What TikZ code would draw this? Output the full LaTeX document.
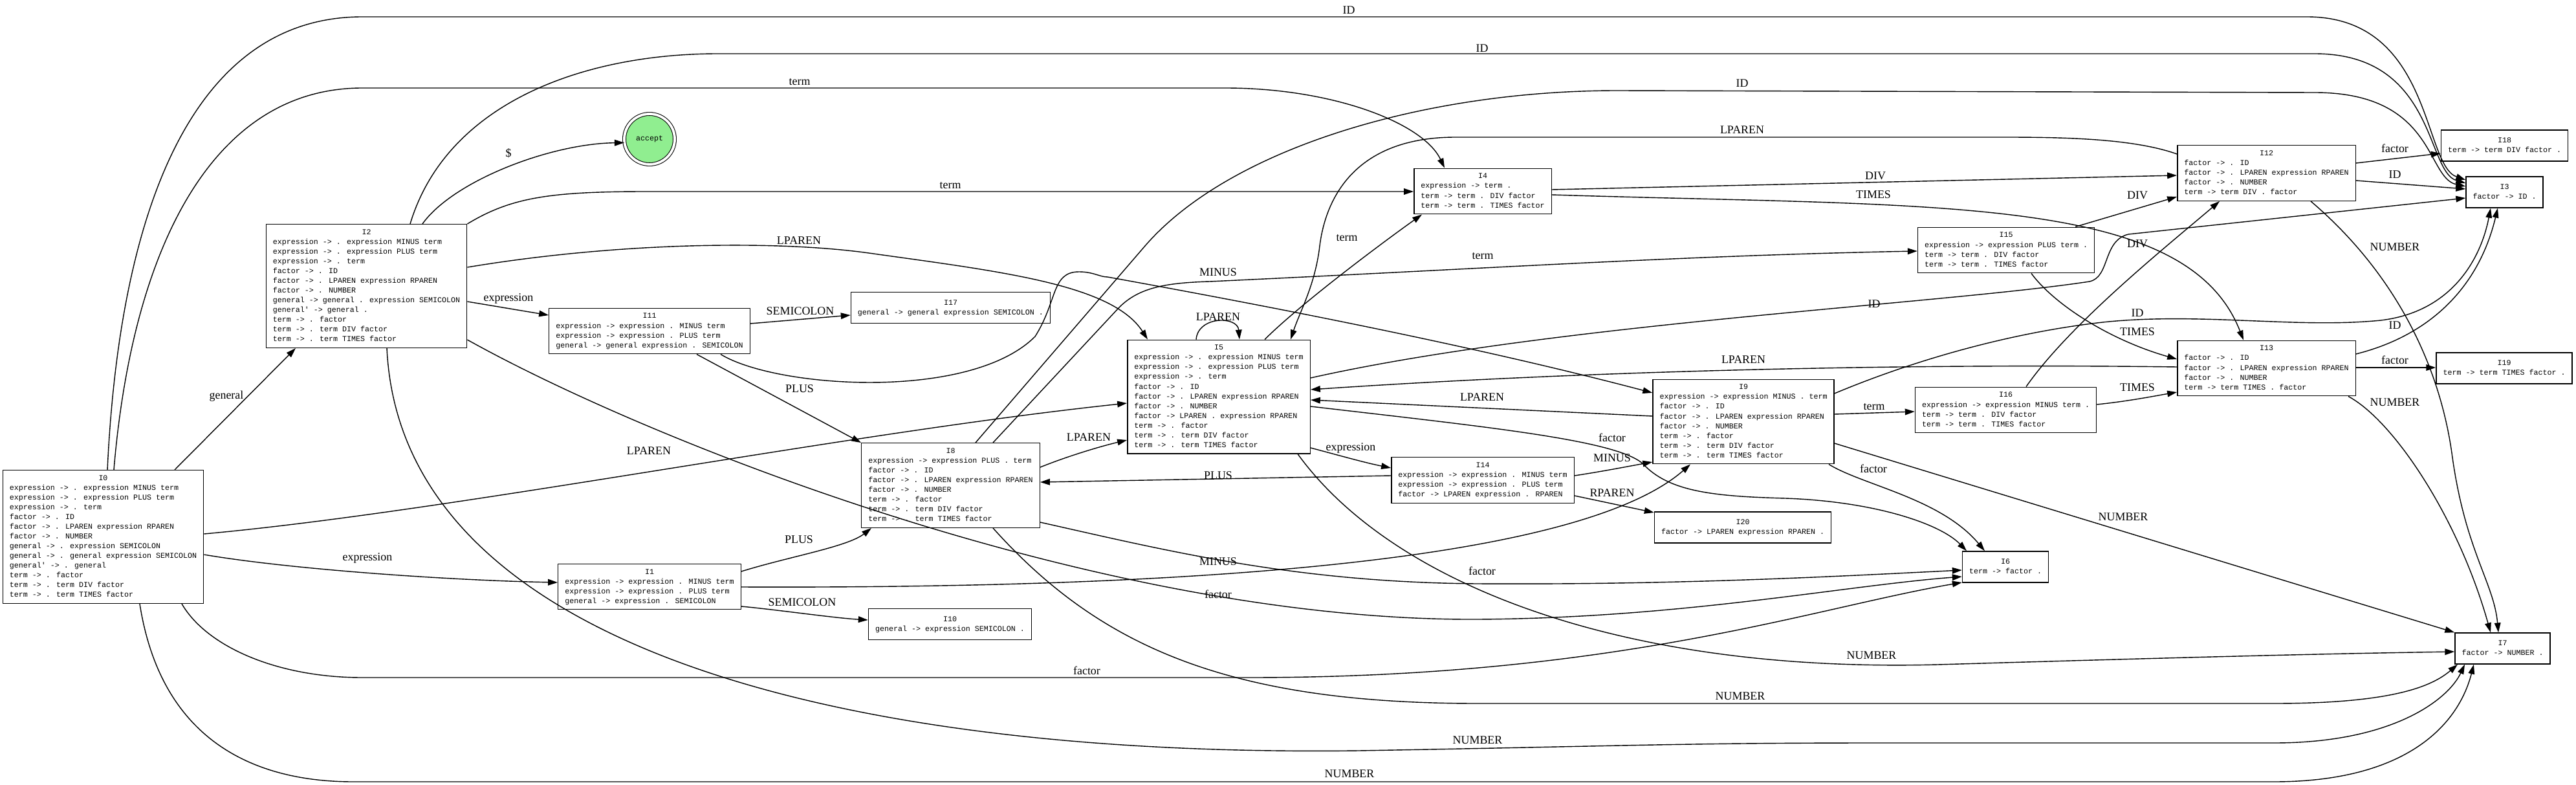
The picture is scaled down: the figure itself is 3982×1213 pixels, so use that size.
\documentclass[tikz,border=0pt]{standalone}
\usepackage{fontspec}
\usetikzlibrary{arrows.meta}
\newfontfamily\statefont{Liberation Mono}
\newfontfamily\edgefont{Liberation Serif}
\definecolor{acceptgreen}{HTML}{90EE90}
\newcommand{\lritems}[2]{\begin{tabular}{@{}l@{}}\multicolumn{1}{@{}c@{}}{#1}\\#2\end{tabular}}
\tikzset{
  lrstate/.style={draw, line width=0.8pt, inner xsep=6pt, inner ysep=3pt, minimum height=0.96cm,
    font=\statefont\fontsize{6.64}{8.54}\selectfont},
  acceptnode/.style={circle, draw, line width=0.6pt, double, double distance=2.2pt, fill=acceptgreen,
    minimum size=1.56cm, inner sep=0pt, font=\statefont\fontsize{6.64}{8.54}\selectfont},
  trans/.style={-{Triangle[length=8.5pt,width=5.5pt]}, line width=0.8pt},
  tlabel/.style={font=\edgefont\fontsize{10.2}{12}\selectfont, inner sep=0pt}
}
\begin{document}
\begin{tikzpicture}[x=0.02cm, y=-0.02cm]
\useasboundingbox (0,0) rectangle (3982,1213);
\fill[white] (0,0) rectangle (3982,1213);

% States
\node[lrstate] (I0) at (159.5,829.5) {\lritems{I0}{expression -> . expression MINUS term\\expression -> . expression PLUS term\\expression -> . term\\factor -> . ID\\factor -> . LPAREN expression RPAREN\\factor -> . NUMBER\\general -> . expression SEMICOLON\\general -> . general expression SEMICOLON\\general' -> . general\\term -> . factor\\term -> . term DIV factor\\term -> . term TIMES factor}};
\node[lrstate] (I1) at (1004,906.5) {\lritems{I1}{expression -> expression . MINUS term\\expression -> expression . PLUS term\\general -> expression . SEMICOLON}};
\node[lrstate] (I2) at (566.5,442) {\lritems{I2}{expression -> . expression MINUS term\\expression -> . expression PLUS term\\expression -> . term\\factor -> . ID\\factor -> . LPAREN expression RPAREN\\factor -> . NUMBER\\general -> general . expression SEMICOLON\\general' -> general .\\term -> . factor\\term -> . term DIV factor\\term -> . term TIMES factor}};
\node[lrstate] (I3) at (3871.5,297) {\lritems{I3}{factor -> ID .}};
\node[lrstate] (I4) at (2292,295.5) {\lritems{I4}{expression -> term .\\term -> term . DIV factor\\term -> term . TIMES factor}};
\node[lrstate] (I5) at (1884,613) {\lritems{I5}{expression -> . expression MINUS term\\expression -> . expression PLUS term\\expression -> . term\\factor -> . ID\\factor -> . LPAREN expression RPAREN\\factor -> . NUMBER\\factor -> LPAREN . expression RPAREN\\term -> . factor\\term -> . term DIV factor\\term -> . term TIMES factor}};
\node[lrstate] (I6) at (3100,876) {\lritems{I6}{term -> factor .}};
\node[lrstate] (I7) at (3868.5,1002) {\lritems{I7}{factor -> NUMBER .}};
\node[lrstate] (I8) at (1469.5,750) {\lritems{I8}{expression -> expression PLUS . term\\factor -> . ID\\factor -> . LPAREN expression RPAREN\\factor -> . NUMBER\\term -> . factor\\term -> . term DIV factor\\term -> . term TIMES factor}};
\node[lrstate] (I9) at (2695,651.5) {\lritems{I9}{expression -> expression MINUS . term\\factor -> . ID\\factor -> . LPAREN expression RPAREN\\factor -> . NUMBER\\term -> . factor\\term -> . term DIV factor\\term -> . term TIMES factor}};
\node[lrstate] (I10) at (1468.5,964.5) {\lritems{I10}{general -> expression SEMICOLON .}};
\node[lrstate] (I11) at (1004,511.5) {\lritems{I11}{expression -> expression . MINUS term\\expression -> expression . PLUS term\\general -> general expression . SEMICOLON}};
\node[lrstate] (I12) at (3503.5,267.5) {\lritems{I12}{factor -> . ID\\factor -> . LPAREN expression RPAREN\\factor -> . NUMBER\\term -> term DIV . factor}};
\node[lrstate] (I13) at (3503.5,569) {\lritems{I13}{factor -> . ID\\factor -> . LPAREN expression RPAREN\\factor -> . NUMBER\\term -> term TIMES . factor}};
\node[lrstate] (I14) at (2292,742) {\lritems{I14}{expression -> expression . MINUS term\\expression -> expression . PLUS term\\factor -> LPAREN expression . RPAREN}};
\node[lrstate] (I15) at (3101,386.5) {\lritems{I15}{expression -> expression PLUS term .\\term -> term . DIV factor\\term -> term . TIMES factor}};
\node[lrstate] (I16) at (3100.5,633.5) {\lritems{I16}{expression -> expression MINUS term .\\term -> term . DIV factor\\term -> term . TIMES factor}};
\node[lrstate] (I17) at (1469.5,475.5) {\lritems{I17}{general -> general expression SEMICOLON .}};
\node[lrstate] (I18) at (3871.5,225) {\lritems{I18}{term -> term DIV factor .}};
\node[lrstate] (I19) at (3871,569) {\lritems{I19}{term -> term TIMES factor .}};
\node[lrstate] (I20) at (2694,815) {\lritems{I20}{factor -> LPAREN expression RPAREN .}};
\node[acceptnode] (acc) at (1004,215) {accept};

% From I0
\draw[trans] (I0.north -| 270,0) -- (I2.south -| 457,0);
\node[tlabel] (t0-2) at (350,612) {general};
\draw[trans] (I0.east |- 0,857) .. controls (450,880) and (700,897) .. (I1.west |- 0,900);
\node[tlabel] (t0-1) at (568,862) {expression};
\draw[trans] (I0.north -| 176,0) .. controls (205,380) and (330,136) .. (560,136) -- (1894,136) .. controls (2060,136) and (2200,190) .. (I4.north -| 2233,0);
\node[tlabel] (t0-4) at (1236,127) {term};
\draw[trans] (I0.north -| 166,0) .. controls (185,320) and (300,26) .. (560,26) -- (3566,26) .. controls (3760,26) and (3745,255) .. (I3.west |- 0,278);
\node[tlabel] (t0-3) at (2085,16) {ID};
\draw[trans] (I0.east |- 0,825) .. controls (700,790) and (1300,670) .. (I5.west |- 0,623);
\node[tlabel] (t0-5) at (1003,697) {LPAREN};
\draw[trans] (I0.south -| 281,0) .. controls (320,1000) and (430,1047) .. (560,1047) -- (1930,1047) .. controls (2500,1047) and (2800,940) .. (I6.west |- 0,900);
\node[tlabel] (t0-6) at (1680,1036) {factor};
\draw[trans] (I0.south -| 216,0) .. controls (250,1150) and (400,1208) .. (546,1208) -- (3515,1208) .. controls (3720,1208) and (3800,1120) .. (I7.south -| 3824,0);
\node[tlabel] (t0-7) at (2086,1196) {NUMBER};

% From I1
\draw[trans] (I1.east |- 0,883) .. controls (1220,860) and (1310,845) .. (I8.south -| 1347,0);
\node[tlabel] (t1-8) at (1235,834) {PLUS};
\draw[trans] (I1.east |- 0,907) .. controls (1900,910) and (2450,860) .. (I9.south -| 2613,0);
\node[tlabel] (t1-9) at (1883,868) {MINUS};
\draw[trans] (I1.east |- 0,937) .. controls (1200,942) and (1290,955) .. (I10.west |- 0,958);
\node[tlabel] (t1-10) at (1240,931) {SEMICOLON};

% From I2
\draw[trans] (I2.north -| 653,0) .. controls (700,280) and (850,222) .. (acc.188);
\node[tlabel] (t2-a) at (786,237) {\$};
\draw[trans] (I2.east |- 0,466) -- (I11.west |- 0,487);
\node[tlabel] (t2-11) at (786,461) {expression};
\draw[trans] (I2.north east) .. controls (790,305) and (850,296) .. (1000,296) -- (I4.west |- 0,296);
\node[tlabel] (t2-4) at (1469,287) {term};
\draw[trans] (I2.east |- 0,525) .. controls (1000,680) and (1700,960) .. (2284,957) .. controls (2600,955) and (2850,905) .. (I6.west |- 0,891);
\node[tlabel] (t2-6) at (1883,918) {factor};
\draw[trans] (I2.north -| 634,0) .. controls (690,160) and (900,83) .. (1110,83) -- (3578,83) .. controls (3765,83) and (3750,265) .. (I3.west |- 0,283);
\node[tlabel] (t2-3) at (2291,75) {ID};
\draw[trans] (I2.east |- 0,413) .. controls (950,375) and (1200,370) .. (1350,392) .. controls (1550,420) and (1720,440) .. (I5.north -| 1774,0);
\node[tlabel] (t2-5) at (1235,372) {LPAREN};
\draw[trans] (I2.south -| 598,0) .. controls (620,1000) and (1300,1170) .. (2100,1160) .. controls (2500,1153) and (2600,1148) .. (2900,1148) -- (3515,1148) .. controls (3700,1148) and (3785,1080) .. (I7.south -| 3810,0);
\node[tlabel] (t2-7) at (2284,1144) {NUMBER};

% From I4
\draw[trans] (I4.east |- 0,293) -- (I12.west |- 0,271);
\node[tlabel] (t4-12) at (2899,272) {DIV};
\draw[trans] (I4.east |- 0,301) .. controls (3000,320) and (3380,300) .. (I13.north -| 3468,0);
\node[tlabel] (t4-13) at (2896,301) {TIMES};

% From I5
\draw[trans] (I5.east |- 0,692) .. controls (2075,705) and (2110,715) .. (I14.west |- 0,723);
\node[tlabel] (t5-14) at (2088,692) {expression};
\draw[trans] (I5.north -| 1955,0) .. controls (2010,470) and (2130,380) .. (I4.south -| 2198,0);
\node[tlabel] (t5-4) at (2082,368) {term};
\draw[trans] (I5.east |- 0,628) .. controls (2300,660) and (2500,680) .. (2540,717) .. controls (2580,760) and (2650,767) .. (2760,770) .. controls (2900,775) and (3000,810) .. (I6.north -| 3040,0);
\node[tlabel] (t5-6) at (2492,676) {factor};
\draw[trans] (I5.east |- 0,584) .. controls (2400,500) and (3000,470) .. (3230,435) .. controls (3262,428) and (3250,372) .. (3290,362) -- (I3.west |- 0,306);
\node[tlabel] (t5-3) at (2897,470) {ID};
\draw[trans] (I5.north -| 1849,0) .. controls (1852,488) and (1913,488) .. (I5.north -| 1916,0);
\node[tlabel] (t5-5) at (1883,490) {LPAREN};
\draw[trans] (I5.south -| 2006,0) .. controls (2150,900) and (2500,1040) .. (2995,1027) .. controls (3400,1015) and (3600,1010) .. (I7.west |- 0,1007);
\node[tlabel] (t5-7) at (2893,1013) {NUMBER};

% From I8
\draw[trans] (I8.east |- 0,722) .. controls (1650,705) and (1700,690) .. (I5.west |- 0,680);
\node[tlabel] (t8-5) at (1683,676) {LPAREN};
\draw[trans] (I8.north -| 1535,0) -- (1730,475) .. controls (1760,445) and (1800,437) .. (1870,435) .. controls (2300,415) and (2600,395) .. (I15.west |- 0,388);
\node[tlabel] (t8-15) at (2292,396) {term};
\draw[trans] (I8.north -| 1508,0) -- (1770,380) .. controls (1900,230) and (2200,140) .. (2500,140) -- (3578,143) .. controls (3765,143) and (3750,275) .. (I3.west |- 0,288);
\node[tlabel] (t8-3) at (2693,129) {ID};
\draw[trans] (I8.east |- 0,807) .. controls (1800,850) and (2000,900) .. (2284,902) .. controls (2600,904) and (2850,890) .. (I6.west |- 0,881);
\node[tlabel] (t8-6) at (2291,882) {factor};
\draw[trans] (I8.south -| 1535,0) .. controls (1700,1000) and (1900,1087) .. (2284,1087) -- (3515,1087) .. controls (3700,1087) and (3760,1060) .. (I7.south -| 3799,0);
\node[tlabel] (t8-7) at (2690,1076) {NUMBER};

% From I9
\draw[trans] (I9.east |- 0,640) -- (I16.west |- 0,636);
\node[tlabel] (t9-16) at (2897,629) {term};
\draw[trans] (I9.south -| 2827,0) .. controls (2880,750) and (3000,770) .. (I6.north -| 3068,0);
\node[tlabel] (t9-6) at (2896,724) {factor};
\draw[trans] (I9.west |- 0,643) -- (I5.east |- 0,618);
\node[tlabel] (t9-5) at (2291,614) {LPAREN};
\draw[trans] (I9.east |- 0,608) .. controls (2950,560) and (3100,515) .. (3250,498) .. controls (3400,482) and (3550,508) .. (3680,495) .. controls (3790,482) and (3835,400) .. (I3.south -| 3850,0);
\node[tlabel] (t9-3) at (3304,484) {ID};
\draw[trans] (I9.east |- 0,685) -- (I7.north west);
\node[tlabel] (t9-7) at (3282,799) {NUMBER};

% From I11
\draw[trans] (I11.east |- 0,500) -- (I17.west |- 0,487);
\node[tlabel] (t11-17) at (1237,481) {SEMICOLON};
\draw[trans] (I11.south -| 1077,0) -- (I8.north west);
\node[tlabel] (t11-8) at (1236,601) {PLUS};
\draw[trans] (I11.south -| 1114,0) .. controls (1200,600) and (1500,620) .. (1600,520) .. controls (1635,465) and (1625,420) .. (1668,420) .. controls (1690,420) and (1700,428) .. (1712,428) .. controls (2000,480) and (2300,540) .. (I9.west |- 0,607);
\node[tlabel] (t11-9) at (1883,421) {MINUS};

% From I12
\draw[trans] (I12.east |- 0,252) -- (I18.west |- 0,237);
\node[tlabel] (t12-18) at (3702,229) {factor};
\draw[trans] (I12.east |- 0,279) -- (I3.west |- 0,292);
\node[tlabel] (t12-3) at (3702,270) {ID};
\draw[trans] (I12.south -| 3572,0) .. controls (3700,420) and (3770,560) .. (3790,700) .. controls (3810,850) and (3855,900) .. (I7.north -| 3862,0);
\node[tlabel] (t12-7) at (3702,382) {NUMBER};
\draw[trans] (I12.west |- 0,238) .. controls (3300,215) and (3200,212) .. (3100,212) -- (2250,212) .. controls (2100,212) and (2050,300) .. (2040,380) .. controls (2033,440) and (2010,480) .. (I5.north -| 1995,0);
\node[tlabel] (t12-5) at (2693,201) {LPAREN};

% From I13
\draw[trans] (I13.east |- 0,568) -- (I19.west |- 0,568);
\node[tlabel] (t13-19) at (3702,556) {factor};
\draw[trans] (I13.east |- 0,547) .. controls (3750,520) and (3830,450) .. (I3.south -| 3861,0);
\node[tlabel] (t13-3) at (3702,503) {ID};
\draw[trans] (I13.south -| 3630,0) .. controls (3700,650) and (3800,800) .. (I7.north -| 3850,0);
\node[tlabel] (t13-7) at (3702,622) {NUMBER};
\draw[trans] (I13.west |- 0,567) .. controls (3000,562) and (2500,570) .. (I5.east |- 0,602);
\node[tlabel] (t13-5) at (2695,556) {LPAREN};

% From I14
\draw[trans] (I14.east |- 0,766) -- (I20.west |- 0,792);
\node[tlabel] (t14-20) at (2492,762) {RPAREN};
\draw[trans] (I14.west |- 0,735) -- (I8.east |- 0,745);
\node[tlabel] (t14-8) at (1883,735) {PLUS};
\draw[trans] (I14.east |- 0,735) .. controls (2480,728) and (2520,720) .. (I9.west |- 0,714);
\node[tlabel] (t14-9) at (2492,708) {MINUS};

% From I15 and I16
\draw[trans] (I15.north -| 3208,0) -- (I12.west |- 0,304);
\node[tlabel] (t15-12) at (3304,302) {DIV};
\draw[trans] (I15.south -| 3140,0) .. controls (3175,470) and (3260,525) .. (I13.west |- 0,555);
\node[tlabel] (t15-13) at (3304,513) {TIMES};
\draw[trans] (I16.north -| 3132,0) .. controls (3200,500) and (3350,380) .. (I12.south -| 3431,0);
\node[tlabel] (t16-12) at (3304,377) {DIV};
\draw[trans] (I16.east |- 0,625) .. controls (3290,620) and (3330,612) .. (I13.west |- 0,606);
\node[tlabel] (t16-13) at (3304,599) {TIMES};

\end{tikzpicture}
\end{document}
